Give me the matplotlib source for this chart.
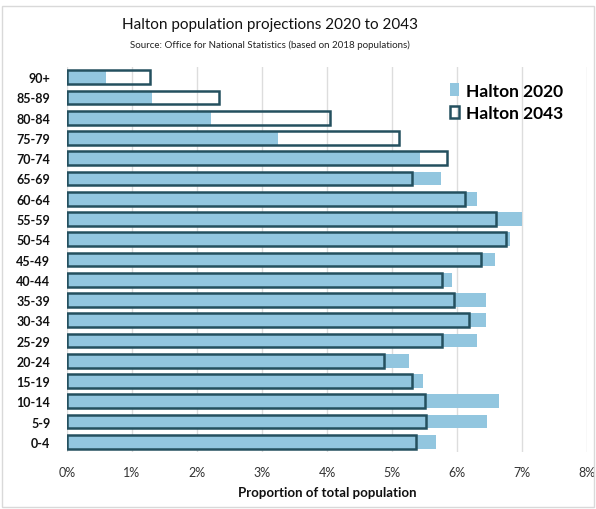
import matplotlib
matplotlib.use("Agg")
import matplotlib.pyplot as plt
from matplotlib.patches import Rectangle
from matplotlib.ticker import FuncFormatter
import numpy as np

plt.rcParams['font.family'] = ['Lato', 'DejaVu Sans']

ages = ['90+', '85-89', '80-84', '75-79', '70-74', '65-69', '60-64', '55-59',
        '50-54', '45-49', '40-44', '35-39', '30-34', '25-29', '20-24',
        '15-19', '10-14', '5-9', '0-4']
halton_2020 = [0.60, 1.31, 2.22, 3.25, 5.43, 5.75, 6.30, 7.00, 6.82, 6.59,
               5.92, 6.45, 6.45, 6.30, 5.26, 5.48, 6.65, 6.46, 5.67]
halton_2043 = [1.27, 2.34, 4.05, 5.11, 5.85, 5.31, 6.13, 6.60, 6.76, 6.37,
               5.77, 5.96, 6.19, 5.77, 4.88, 5.31, 5.50, 5.52, 5.37]

light_blue = '#92c6df'
dark_teal = '#24505f'

fig = plt.figure(figsize=(5.96, 5.10), dpi=100)
ax = fig.add_axes([67 / 596, 1 - 453 / 510, 520 / 596, 385 / 510])

y = np.arange(len(ages))
ax.barh(y, halton_2020, height=0.68, color=light_blue, label='Halton 2020', zorder=2)
ax.barh(y, halton_2043, height=0.68, facecolor='none', edgecolor=dark_teal,
        linewidth=1.8, label='Halton 2043', zorder=3)

ax.set_xlim(0, 8)
ax.set_ylim(len(ages) - 0.5, -0.5)
ax.set_yticks(y)
ax.set_yticklabels(ages, fontsize=9, fontweight='bold', color='#111111')
ax.set_xticks(range(0, 9))
ax.xaxis.set_major_formatter(FuncFormatter(lambda v, p: f'{int(v)}%'))
ax.tick_params(axis='x', labelsize=9, colors='#333333', length=0, pad=10)
ax.tick_params(axis='y', length=0, pad=12)
ax.grid(axis='x', color='#dddddd', linewidth=1, zorder=0)
ax.set_axisbelow(True)
for s in ax.spines.values():
    s.set_visible(False)

ax.set_xlabel('Proportion of total population', fontsize=9.5, fontweight='bold',
              color='#111111', labelpad=6)

leg = ax.legend(loc='upper right', bbox_to_anchor=(0.985, 1.0), frameon=False,
                handlelength=0.55, handleheight=0.7, handletextpad=0.4,
                labelspacing=0.35, prop={'weight': 'bold', 'size': 12.5})

fig.text(270 / 596, 1 - 25 / 510, 'Halton population projections 2020 to 2043',
         ha='center', va='center', fontsize=11, color='#111111')
fig.text(270 / 596, 1 - 45 / 510, 'Source: Office for National Statistics (based on 2018 populations)',
         ha='center', va='center', fontsize=7, color='#222222')

fig.patches.append(Rectangle((0.003, 0.003), 0.994, 0.984, transform=fig.transFigure,
                             fill=False, edgecolor='#d9d9d9', linewidth=1))

fig.savefig('out.png', dpi=100)
